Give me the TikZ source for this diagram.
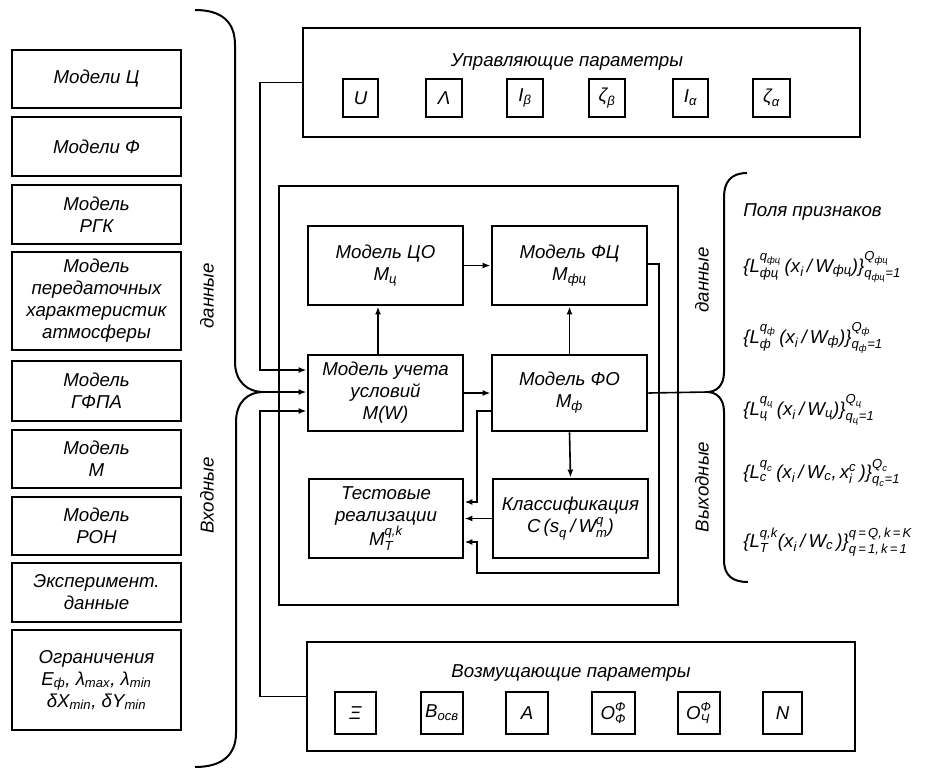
\documentclass[tikz,border=0pt]{standalone}
\usepackage{amsmath}
\usepackage{fontspec}
\setmainfont{Liberation Sans}
\usetikzlibrary{arrows.meta}
% letters inside formulas are taken from the text font
\newcommand{\tm}[1]{\text{#1}}
\begin{document}
\begin{tikzpicture}[x=0.75pt,y=-0.75pt,
  every node/.style={font=\fontsize{14}{16.5}\selectfont\itshape},
  corners/.style args={#1/#2/#3/#4}{at={({(#1+#3)/2},{(#2+#4)/2})},
    minimum width={(#3-#1)*0.75pt}, minimum height={(#4-#2)*0.75pt}},
  box/.style={draw, line width=2.2pt, inner sep=0pt, align=center, corners=#1},
  pbox/.style={draw, line width=2.2pt, inner sep=0pt, corners=#1},
  conn/.style={line width=1.2pt},
  arr/.style={conn, -{Latex[length=6pt,width=4.5pt]}},
  brace/.style={line width=1.5pt},
  vlabel/.style={rotate=90},
  flabel/.style={anchor=west, inner sep=0pt}]
\useasboundingbox (0,0) rectangle (925,769);

% ---------- source models (left column) ----------
\node[box=12/50/181/108]  (m1) {Модели Ц};
\node[box=12/117/181/176] (m2) {Модели Ф};
\node[box=12/185/181/244] (m3) {Модель\\РГК};
\node[box=12/252/181/350] (m4) {Модель\\передаточных\\характеристик\\атмосферы};
\node[box=12/361/181/421] (m5) {Модель\\ГФПА};
\node[box=12/430/181/488] (m6) {Модель\\М};
\node[box=12/497/181/555] (m7) {Модель\\РОН};
\node[box=12/563/181/622] (m8) {Эксперимент.\\данные};
\node[box=12/630/181/730] (m9) {Ограничения\\
  $\tm{E}_{\tm{ф}}$, $\tm{λ}_{\tm{max}}$, $\tm{λ}_{\tm{min}}$\\
  $\tm{δX}_{\tm{min}}$, $\tm{δY}_{\tm{min}}$};

% ---------- control parameters ----------
\node[box=303/28/860/137] (upr) {};
\node (uprt) at (567,62) {Управляющие параметры};
\node[pbox=343/79/378/117] (u1) {$\tm{U}$};
\node[pbox=426/79/462/117] (u2) {$\tm{Λ}$};
\node[pbox=507/79/543/117] (u3) {$\tm{I}_{\tm{β}}$};
\node[pbox=589/79/625/117] (u4) {$\tm{ζ}_{\tm{β}}$};
\node[pbox=673/79/708/117] (u5) {$\tm{I}_{\tm{α}}$};
\node[pbox=753/79/790/117] (u6) {$\tm{ζ}_{\tm{α}}$};

% ---------- disturbing parameters ----------
\node[box=307/642/855/751] (bot) {};
\node (bott) at (571,673) {Возмущающие параметры};
\node[pbox=335/692/376/734] (b1) {$\tm{Ξ}$};
\node[pbox=421/692/463/734] (b2) {$\tm{B}_{\tm{осв}}$};
\node[pbox=506/692/548/734] (b3) {$\tm{A}$};
\node[pbox=592/692/635/734] (b4) {$\tm{O}^{\tm{Ф}}_{\tm{Ф}}$};
\node[pbox=678/692/720/734] (b5) {$\tm{O}^{\tm{Ф}}_{\tm{Ч}}$};
\node[pbox=763/692/802/734] (b6) {$\tm{N}$};

% ---------- simulation core ----------
\node[box=279/186/678/605] (core) {};
\node[box=308/226/463/305] (co)  {Модель ЦО\\$\tm{M}_{\tm{ц}}$};
\node[box=492/226/647/305] (fc)  {Модель ФЦ\\$\tm{M}_{\tm{фц}}$};
\node[box=308/355/463/431] (uch) {Модель учета\\условий\\$\tm{M(W)}$};
\node[box=492/355/647/431] (fo)  {Модель ФО\\$\tm{M}_{\tm{ф}}$};
\node[box=309/479/463/558] (ts)  {Тестовые\\реализации\\$\tm{M}^{\tm{q,k}}_{\tm{T}}$};
\node[box=493/479/648/558] (kl)  {Классификация\\$\tm{C\,(s}_{\tm{q}}\tm{\,/\,W}^{\tm{q}}_{\tm{m}}\tm{)}$};

% ---------- braces ----------
\coordinate (lt) at (263,392);
\coordinate (rt) at (707,392);
\draw[brace] (195,10) .. controls (222,10) and (235,22) .. (235,45) -- (235,362)
  .. controls (235,382) and (248,392) .. (lt)
  .. controls (248,392) and (236,402) .. (236,422) -- (236,733)
  .. controls (236,755) and (222,767) .. (195,767);
\draw[brace] (747,173) .. controls (731,173) and (724,182) .. (724,197) -- (724,372)
  .. controls (724,386) and (716,392) .. (rt)
  .. controls (716,392) and (724,398) .. (724,412) -- (724,560)
  .. controls (724,576) and (733,582) .. (748,582);

\node[vlabel] (ld) at (207,296) {данные};
\node[vlabel] (li) at (207,495) {Входные};
\node[vlabel] (rd) at (702,280) {данные};
\node[vlabel] (ro) at (702,487) {Выходные};

% ---------- inputs to the condition model ----------
\coordinate (ja) at (260,370);
\coordinate (jb) at (260,411);
\draw[arr] (upr.west) -| (ja) -- (ja -| uch.west);
\draw[arr] (bot.west) -| (jb) -- (jb -| uch.west);
\draw[arr] (lt) -- (lt -| uch.west);

% ---------- internal links ----------
\coordinate (xa) at (378,0);
\draw[arr] (uch.north -| xa) -- (co.south -| xa);
\draw[arr] (fo.north) -- (fc.south);
\draw[arr] (co.east) -- (fc.west);
\draw[arr] (uch.east) -- (fo.west);
\draw[arr] (fo.south) -- (kl.north);
\draw[arr] (kl.west) -- (kl.west -| ts.east);
\coordinate (p1) at (477,411);
\coordinate (p2) at (477,502);
\coordinate (p3) at (659,264);
\coordinate (p4) at (659,573);
\coordinate (p5) at (477,573);
\coordinate (p6) at (477,542);
\draw[arr] (p1 -| fo.west) -- (p1) -- (p2) -- (p2 -| ts.east);
\draw[arr] (p3 -| fc.east) -- (p3) -- (p4) -- (p5) -- (p6) -- (p6 -| ts.east);
\draw[conn] (fo.east) -- (rt);

% ---------- feature fields ----------
\node[flabel] (f0) at (743,212) {Поля признаков};
\node[flabel] (f1) at (743,267)
  {$\tm{\{L}^{\tm{q}_{\tm{фц}}}_{\tm{фц}}\tm{\,(x}_{\tm{i}}\tm{\,/\,W}_{\tm{фц}}\tm{)\}}^{\tm{Q}_{\tm{фц}}}_{\tm{q}_{\tm{фц}}\tm{=1}}$};
\node[flabel] (f2) at (743,338)
  {$\tm{\{L}^{\tm{q}_{\tm{ф}}}_{\tm{ф}}\tm{\,(x}_{\tm{i}}\tm{\,/\,W}_{\tm{ф}}\tm{)\}}^{\tm{Q}_{\tm{ф}}}_{\tm{q}_{\tm{ф}}\tm{=1}}$};
\node[flabel] (f3) at (743,410)
  {$\tm{\{L}^{\tm{q}_{\tm{ц}}}_{\tm{ц}}\tm{\,(x}_{\tm{i}}\tm{\,/\,W}_{\tm{ц}}\tm{)\}}^{\tm{Q}_{\tm{ц}}}_{\tm{q}_{\tm{ц}}\tm{=1}}$};
\node[flabel] (f4) at (743,473)
  {$\tm{\{L}^{\tm{q}_{\tm{c}}}_{\tm{c}}\tm{\,(x}_{\tm{i}}\tm{\,/\,W}_{\tm{c}}\tm{,\,x}^{\tm{c}}_{\tm{i}}\,\tm{)\}}^{\tm{Q}_{\tm{c}}}_{\tm{q}_{\tm{c}}\tm{=1}}$};
\node[flabel] (f5) at (743,542)
  {$\tm{\{L}^{\tm{q,k}}_{\tm{T}}\tm{(x}_{\tm{i}}\tm{\,/\,W}_{\tm{c}}\tm{\,)\}}^{\tm{q\,=\,Q,\,k\,=\,K}}_{\tm{q\,=\,1,\,k\,=\,1}}$};
\end{tikzpicture}
\end{document}
